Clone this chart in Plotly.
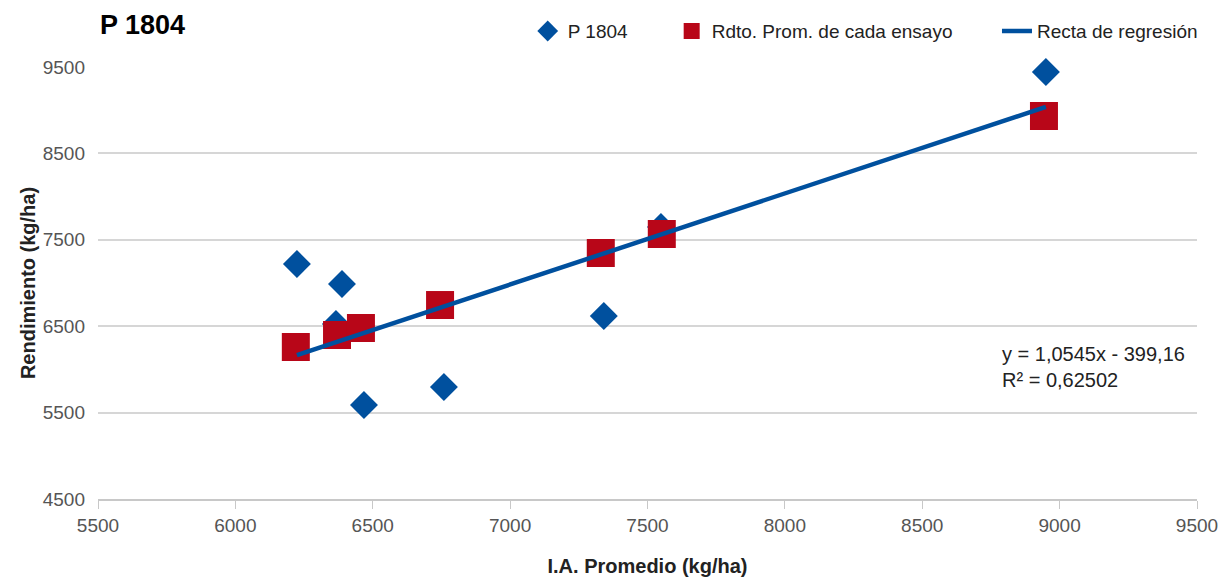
import plotly.graph_objects as go

# Data
ia_hibrido = [6224, 6388, 6366, 6468, 6759, 7341, 7549, 8950]
rend_hibrido = [7220, 6988, 6525, 5588, 5796, 6618, 7648, 9442]

ia_ensayo = [6220, 6370, 6457, 6745, 7330, 7552, 8943]
rend_ensayo = [6259, 6398, 6479, 6745, 7347, 7567, 8933]

pendiente = 1.0545
ordenada = -399.16
r2 = 0.62502

x_ticks = [5500, 6000, 6500, 7000, 7500, 8000, 8500, 9000, 9500]
y_ticks = [4500, 5500, 6500, 7500, 8500, 9500]

BLUE = "#00509e"
RED = "#b80618"
FONT = "Liberation Sans"

x_line = [min(ia_hibrido), max(ia_hibrido)]
y_line = [pendiente * v + ordenada for v in x_line]

fig = go.Figure()
fig.add_trace(go.Scatter(
    x=ia_hibrido, y=rend_hibrido, mode="markers", name="P 1804",
    marker=dict(symbol="diamond", size=21.5, color=BLUE),
    cliponaxis=False, legend="legend"))
fig.add_trace(go.Scatter(
    x=ia_ensayo, y=rend_ensayo, mode="markers", name="Rdto. Prom. de cada ensayo",
    marker=dict(symbol="square", size=28, color=RED),
    cliponaxis=False, legend="legend2"))
fig.add_trace(go.Scatter(
    x=x_line, y=y_line, mode="lines", name="Recta de regresión",
    line=dict(color=BLUE, width=4.5),
    cliponaxis=False, legend="legend3"))

eq_text = (f"y = {str(pendiente).replace('.', ',')}x - {str(-ordenada).replace('.', ',')}"
           f"<br>R² = {str(r2).replace('.', ',')}")
fig.add_annotation(x=0.821, y=0.3056, xref="paper", yref="paper", text=eq_text,
                   showarrow=False, xanchor="left", yanchor="middle", align="left",
                   font=dict(family=FONT, size=20, color="#222"))

legend_common = dict(orientation="h", yanchor="middle", y=1.083, xanchor="left",
                     bgcolor="rgba(0,0,0,0)", font=dict(family=FONT, size=19, color="#222"))

fig.update_layout(
    width=1221, height=571,
    margin=dict(l=90, r=32, t=59, b=80, autoexpand=False),
    paper_bgcolor="white", plot_bgcolor="white",
    title=dict(text="<b>P 1804</b>", x=92 / 1221, xref="container", xanchor="left",
               y=1 - 17 / 571, yanchor="middle",
               font=dict(family=FONT, size=27, color="#000")),
    legend=dict(x=0.391, **legend_common),
    legend2=dict(x=0.522, **legend_common),
    legend3=dict(x=0.818, **legend_common),
    xaxis=dict(range=[5500, 9500], tickvals=x_ticks, showgrid=False, zeroline=False,
               showline=True, linecolor="#c8c8c8", linewidth=1.5, automargin=False,
               ticks="outside", ticklen=8, tickcolor="#c8c8c8",
               tickfont=dict(family=FONT, size=19, color="#555"),
               title=dict(text="<b>I.A. Promedio (kg/ha)</b>", standoff=24,
                          font=dict(family=FONT, size=20, color="#222"))),
    yaxis=dict(range=[4500, 9500], tickvals=y_ticks, showgrid=True, gridcolor="#d6d6d6",
               gridwidth=1.5, zeroline=False, showline=False, ticks="", automargin=False,
               ticklabelstandoff=12,
               tickfont=dict(family=FONT, size=19, color="#555"),
               title=dict(text="<b>Rendimiento (kg/ha)</b>", standoff=1,
                          font=dict(family=FONT, size=20, color="#222"))),
    showlegend=True,
)

fig.write_html("out.html")
